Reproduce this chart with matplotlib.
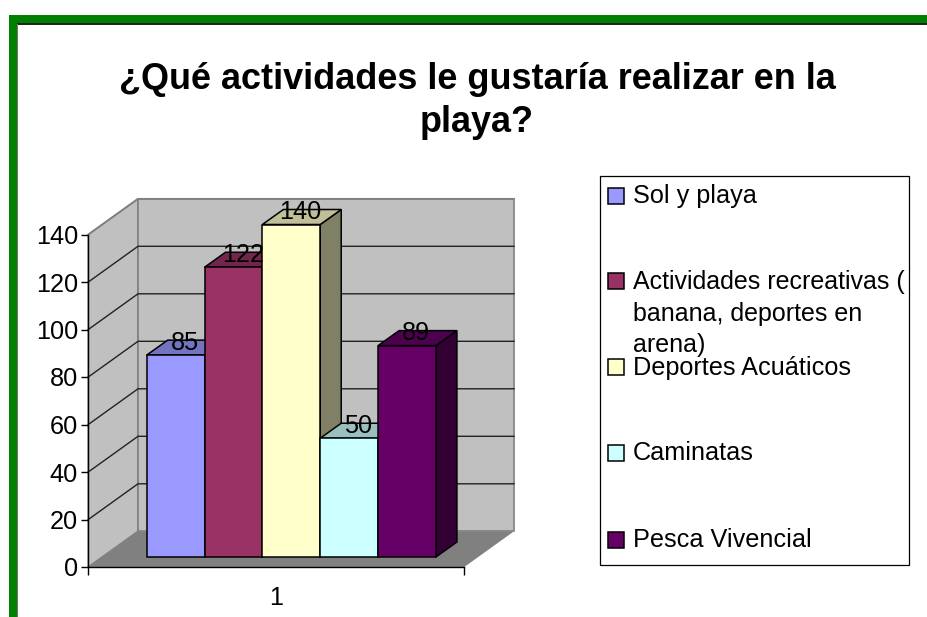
import matplotlib
matplotlib.use("Agg")
import matplotlib.pyplot as plt
from matplotlib.patches import Polygon, Rectangle
from matplotlib.transforms import Affine2D

plt.rcParams['font.family'] = ['Liberation Sans', 'DejaVu Sans']

title = "¿Qué actividades le gustaría realizar en la\nplaya?"
series = ["Sol y playa", "Actividades recreativas (\nbanana, deportes en\narena)",
          "Deportes Acuáticos", "Caminatas", "Pesca Vivencial"]
values = [85, 122, 140, 50, 89]
colors = ["#9999FF", "#993366", "#FFFFCC", "#CCFFFF", "#660066"]
tops = ["#7373BF", "#73264D", "#BFBF99", "#99BFBF", "#4D004D"]
sides = ["#4D4D80", "#4D1A33", "#808066", "#668080", "#330033"]
yticks = list(range(0, 160, 20))
category = "1"

W, H = 928, 617
FS = 18.2
fig = plt.figure(figsize=(W / 100, H / 100), dpi=100, facecolor="white")


def fig_rect(x0, y0, x1, y1, **kw):
    fig.add_artist(Rectangle((x0 / W, 1 - y1 / H), (x1 - x0) / W, (y1 - y0) / H,
                             transform=fig.transFigure, **kw))


# green page frame
fig_rect(9, 15, W, 24, fc="#008000", ec="none")
fig_rect(9, 15, 17.5, H, fc="#008000", ec="none")
fig_rect(17.5, 23.5, W, 24.7, fc="#222222", ec="none")
fig_rect(17.5, 24, 18.5, H, fc="#777777", ec="none")

fig.text(477 / W, 1 - 101 / H, title, ha="center", va="center", fontsize=25.9,
         fontweight="bold", linespacing=1.27, color="black")

# plot axes
left, right, base, top = 88.3, 464.3, 567.0, 234.5
ax = fig.add_axes([left / W, 1 - base / H, (right - left) / W, (base - top) / H])
ax.set_xlim(0.5, 1.5)
ax.set_ylim(0, 140)
ax.patch.set_visible(False)
ux = (right - left)          # px per x unit
uy = (base - top) / 140      # px per y unit

wall_dx, wall_dy = 49.7 / ux, 35.7 / uy
bar_dx, bar_dy = 21 / ux, 15 / uy
wall_col, floor_col, edge_col = "#C0C0C0", "#808080", "#808080"
x0, x1, ymax = 0.5, 1.5, 140

ax.add_patch(Polygon([(x0, 0), (x0 + wall_dx, wall_dy), (x0 + wall_dx, ymax + wall_dy), (x0, ymax)],
                     fc=wall_col, ec=edge_col, lw=1.2, clip_on=False, zorder=1))
ax.add_patch(Polygon([(x0 + wall_dx, wall_dy), (x1 + wall_dx, wall_dy),
                      (x1 + wall_dx, ymax + wall_dy), (x0 + wall_dx, ymax + wall_dy)],
                     fc=wall_col, ec=edge_col, lw=1.2, clip_on=False, zorder=1))
ax.add_patch(Polygon([(x0, 0), (x1, 0), (x1 + wall_dx, wall_dy), (x0 + wall_dx, wall_dy)],
                     fc=floor_col, ec="none", clip_on=False, zorder=1.5))

for t in yticks[1:]:
    xs = [x0, x0 + wall_dx, x1 + wall_dx]
    ys = [t, t + wall_dy, t + wall_dy]
    col = edge_col if t == ymax else "#222222"
    ax.plot(xs, ys, color=col, lw=1.0 if t != ymax else 1.2, clip_on=False, zorder=2,
            solid_joinstyle="miter")

# bars: shifted into the depth of the floor
bar_tf = ax.transData + Affine2D().translate(15, 10)
n = len(values)
w = 1 / (n + 1.5)
for i, v in enumerate(values):
    xl = 0.5 + (0.75 + i) * w
    xr = xl + w
    z = 3 + i
    ax.add_patch(Polygon([(xr, 0), (xr + bar_dx, bar_dy), (xr + bar_dx, v + bar_dy), (xr, v)],
                         fc=sides[i], ec="black", lw=1.1, transform=bar_tf, clip_on=False, zorder=z))
    ax.add_patch(Polygon([(xl, v), (xr, v), (xr + bar_dx, v + bar_dy), (xl + bar_dx, v + bar_dy)],
                         fc=tops[i], ec="black", lw=1.1, transform=bar_tf, clip_on=False, zorder=z))
    ax.bar(xl + w / 2, v, width=w, color=colors[i], edgecolor="black", linewidth=1.1,
           transform=bar_tf, clip_on=False, zorder=z)
    ax.text(xl + w / 2 + 9.3 / ux, v + 12.6 / uy, str(v), transform=bar_tf, ha="center",
            va="center", fontsize=FS, color="black", zorder=10, clip_on=False)

# axes furniture
for s in ("top", "right"):
    ax.spines[s].set_visible(False)
for s in ("left", "bottom"):
    ax.spines[s].set_linewidth(1.0)
    ax.spines[s].set_zorder(2.5)
ax.set_yticks(yticks)
ax.set_xticks([x0, x1])
ax.set_xticklabels([])
ax.set_xticks([1.0], minor=True)
ax.set_xticklabels([category], minor=True)
ax.tick_params(axis="y", length=5, width=1, pad=2.5, labelsize=FS)
ax.tick_params(axis="x", which="major", length=5.5, width=1)
ax.tick_params(axis="x", which="minor", length=0, pad=13.5, labelsize=FS)

# legend
lx0, ly0, lx1, ly1 = 600, 175.5, 909.3, 565
fig_rect(lx0, ly0, lx1, ly1, fc="white", ec="black", lw=0.9)
swatch_y = [195.5, 281, 367, 453, 539.7]
text_y = [196, 313.5, 368.5, 453.5, 540]
for name, c, sy, ty in zip(series, colors, swatch_y, text_y):
    fig_rect(608.3, sy - 8, 624.3, sy + 8, fc=c, ec="black", lw=1.1)
    fig.text(633 / W, 1 - ty / H, name, ha="left", va="center",
             fontsize=FS if "\n" not in name else 18.0,
             linespacing=1.4, color="black")

fig.savefig("out.png", dpi=100, facecolor="white")
